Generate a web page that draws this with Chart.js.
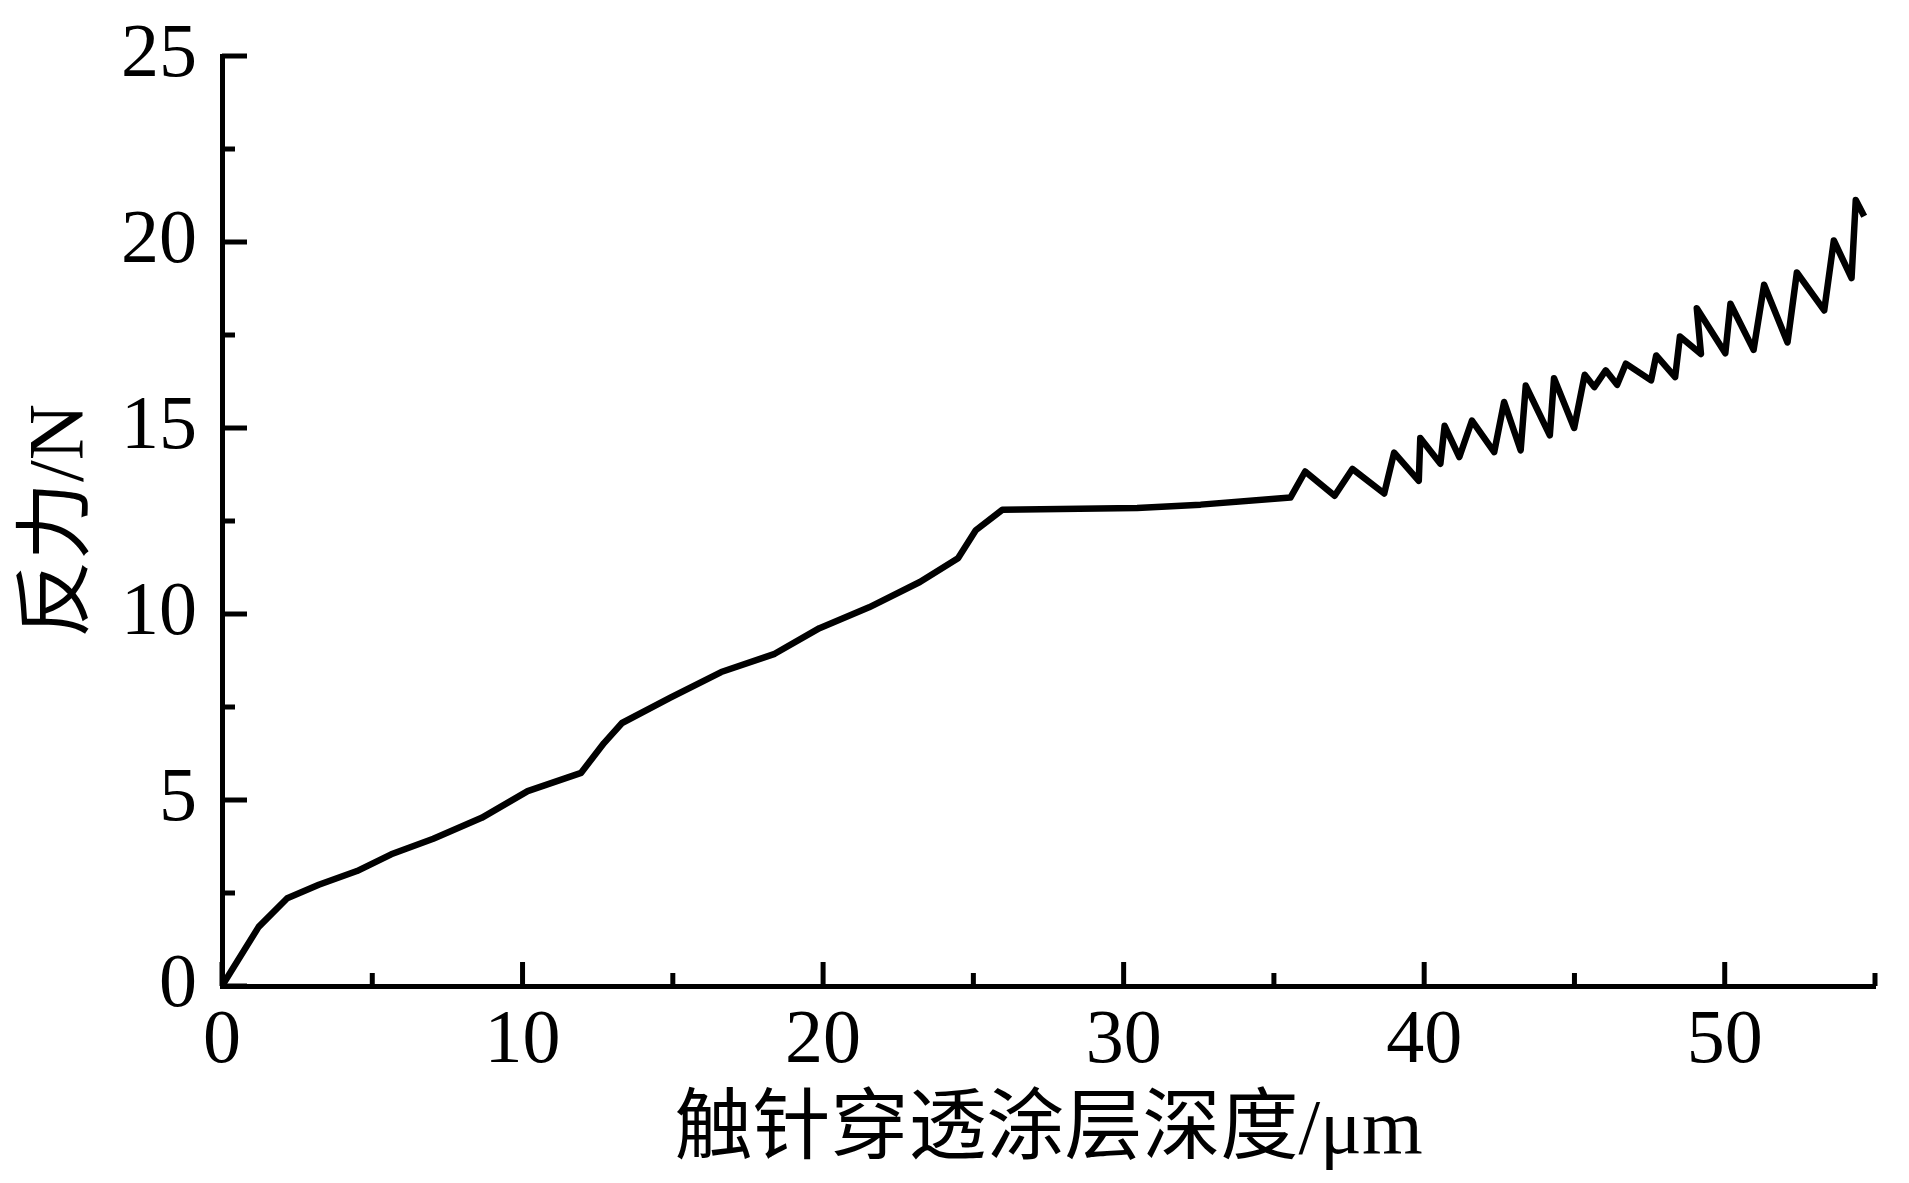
<!DOCTYPE html>
<html>
<head>
<meta charset="utf-8">
<script src="https://cdn.jsdelivr.net/npm/chart.js@4.4.1/dist/chart.umd.min.js"></script>
<style>
  html, body { margin: 0; padding: 0; background: #fff; }
  #wrap { width: 1909px; height: 1183px; position: relative; }
</style>
</head>
<body>
<div id="wrap"><canvas id="chart"></canvas></div>
<script>
// Stylus depth (um) vs reaction force (N)
const depth = [
  0, 1.22, 2.17, 3.22, 4.49, 5.63, 7.03, 8.64, 10.17, 11.95,
  12.71, 13.31, 14.92, 16.61, 18.39, 19.88, 21.53, 23.22, 24.49, 25.08,
  25.96, 30.45, 32.56, 35.55, 36.04, 37.02, 37.61, 38.67, 39.0, 39.82,
  39.87, 40.54, 40.68, 41.17, 41.59, 42.33, 42.66, 43.21, 43.38, 44.18,
  44.32, 44.99, 45.34, 45.66, 46.04, 46.42, 46.71, 47.55, 47.72, 48.35,
  48.51, 49.21, 49.07, 50.02, 50.19, 50.96, 51.31, 52.09, 52.4, 53.31,
  53.63, 54.22, 54.36, 54.64
];
const force = [
  0, 1.59, 2.36, 2.72, 3.09, 3.54, 3.96, 4.52, 5.24, 5.73,
  6.53, 7.07, 7.75, 8.44, 8.93, 9.62, 10.18, 10.86, 11.5, 12.25,
  12.8, 12.85, 12.94, 13.13, 13.83, 13.18, 13.9, 13.24, 14.34, 13.58,
  14.73, 14.04, 15.06, 14.22, 15.2, 14.35, 15.7, 14.4, 16.14, 14.8,
  16.34, 15.0, 16.43, 16.1, 16.55, 16.16, 16.73, 16.28, 16.95, 16.37,
  17.46, 16.99, 18.22, 17.01, 18.34, 17.1, 18.85, 17.3, 19.18, 18.16,
  20.04, 19.03, 21.13, 20.69
];

const xTicks = [0, 10, 20, 30, 40, 50];
const xMinorTicks = [5, 15, 25, 35, 45, 55];
const yTicks = [0, 5, 10, 15, 20, 25];
const yMinorTicks = [2.5, 7.5, 12.5, 17.5, 22.5];

const xTitle = '触针穿透涂层深度/μm';
const yTitle = '反力/N';

const FONT = '"Liberation Serif", "Noto Sans CJK SC", serif';

// ticks point inward, drawn with the chart's own scales
const innerTicks = {
  id: 'innerTicks',
  afterDraw(chart) {
    const { ctx, chartArea: a, scales: { x, y } } = chart;
    ctx.save();
    ctx.strokeStyle = '#000';
    ctx.lineWidth = 5;
    ctx.lineCap = 'butt';
    const seg = (x1, y1, x2, y2) => {
      ctx.beginPath();
      ctx.moveTo(x1, y1);
      ctx.lineTo(x2, y2);
      ctx.stroke();
    };
    xTicks.forEach(v => { const p = x.getPixelForValue(v); seg(p, a.bottom, p, a.bottom - 24); });
    xMinorTicks.forEach(v => { const p = x.getPixelForValue(v); seg(p, a.bottom, p, a.bottom - 13); });
    yTicks.forEach(v => { const p = y.getPixelForValue(v); seg(a.left, p, a.left + 25, p); });
    yMinorTicks.forEach(v => { const p = y.getPixelForValue(v); seg(a.left, p, a.left + 13, p); });
    ctx.restore();
  }
};

new Chart(document.getElementById('chart'), {
  type: 'scatter',
  data: {
    datasets: [{
      data: depth.map((d, i) => ({ x: d, y: force[i] })),
      showLine: true,
      borderColor: '#000',
      borderWidth: 6.5,
      borderJoinStyle: 'round',
      pointRadius: 0,
      tension: 0
    }]
  },
  options: {
    responsive: true,
    maintainAspectRatio: false,
    animation: false,
    layout: { autoPadding: false, padding: { top: 56, right: 34, left: 0, bottom: 0 } },
    plugins: { legend: { display: false }, tooltip: { enabled: false } },
    scales: {
      x: {
        type: 'linear',
        min: 0,
        max: 55,
        afterBuildTicks: s => { s.ticks = xTicks.map(v => ({ value: v })); },
        afterFit: s => { s.height = 197; s.paddingLeft = 0; s.paddingRight = 0; },
        grid: { display: false },
        border: { display: true, color: '#000', width: 5 },
        ticks: { color: '#000', padding: 2, maxRotation: 0, font: { family: FONT, size: 76, lineHeight: 1.2 } },
        title: { display: true, text: xTitle, color: '#000', padding: { top: 0, bottom: 4 }, font: { family: FONT, size: 78, lineHeight: 1.2 } }
      },
      y: {
        type: 'linear',
        min: 0,
        max: 25,
        afterBuildTicks: s => { s.ticks = yTicks.map(v => ({ value: v })); },
        afterFit: s => { s.width = 222; s.paddingTop = 0; s.paddingBottom = 0; },
        grid: { display: false },
        border: { display: true, color: '#000', width: 5 },
        ticks: { color: '#000', padding: 17, font: { family: FONT, size: 76, lineHeight: 1.2 } },
        title: { display: true, text: yTitle, color: '#000', padding: { top: 15, bottom: 0 }, font: { family: FONT, size: 78, lineHeight: 1.2 } }
      }
    }
  },
  plugins: [innerTicks]
});
</script>
</body>
</html>
